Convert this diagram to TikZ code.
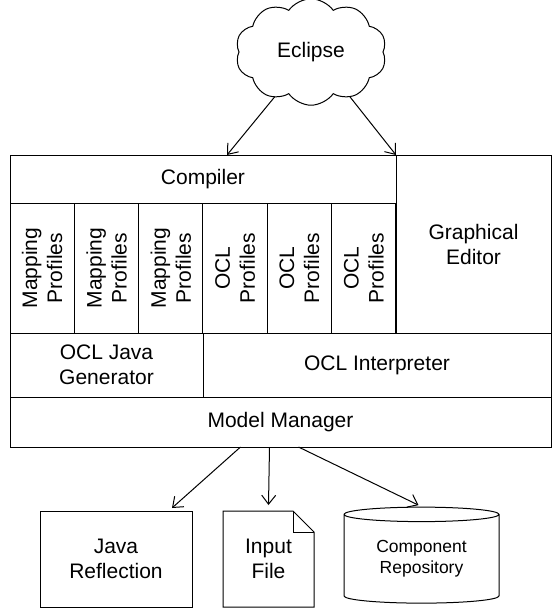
\documentclass[tikz,border=0pt]{standalone}
\usepackage{fontspec}
\setmainfont{Liberation Sans}
\usetikzlibrary{positioning, shapes.symbols, shapes.geometric, arrows.meta}
\tikzset{myCell/.style={draw, line width=1pt, inner sep=0pt, outer sep=0pt, align=center, font=\fontsize{21}{25}\selectfont}}
\tikzset{myProfile/.style={myCell, rotate=90, minimum width=130pt, minimum height=64.33pt}}
\tikzset{myArrow/.style={line width=1pt, -{Straight Barb[length=9pt,width=14pt]}}}
\newcommand{\colW}{64.33}
\newcommand{\foldS}{21pt}

\begin{document}
\begin{tikzpicture}[x=1pt,y=-1pt]
	\useasboundingbox (0,0) rectangle (552,608);
	\node[myCell, cloud, cloud puffs=10, cloud puff arc=110, minimum width=151pt, minimum height=95pt] (eclipse) at (311,52) {Eclipse};

	% tool stack
	\node[myCell, minimum width=386pt, minimum height=48pt] (compiler) at (203,179) {Compiler};
	\foreach \i/\txt in {0/Mapping,1/Mapping,2/Mapping,3/OCL,4/OCL,5/OCL}
		\node[myProfile] (prof\i) at ({10+\colW*(\i+0.5)},268) {\txt\\Profiles};
	\node[myCell, minimum width=155pt, minimum height=178pt] (editor) at (473.5,244) {Graphical\\Editor};
	\node[myCell, minimum width=193pt, minimum height=64pt] (oclgen) at (106.5,365) {OCL Java\\Generator};
	\node[myCell, minimum width=348pt, minimum height=64pt] (oclint) at (377,365) {OCL Interpreter};
	\node[myCell, minimum width=541pt, minimum height=50pt] (manager) at (280.5,422) {Model Manager};

	% back ends
	\node[myCell, minimum width=152pt, minimum height=96pt] (javaref) at (116,559) {Java\\Reflection};
	\node[myCell, draw=none, minimum width=91pt, minimum height=96pt] (inputfile) at (268.5,559) {Input\\File};
	\draw[line width=1pt] (inputfile.south west) -- (inputfile.north west) -- ([xshift=-\foldS]inputfile.north east) -- ([yshift=-\foldS]inputfile.north east) -- (inputfile.south east) -- cycle;
	\draw[line width=1pt] ([xshift=-\foldS]inputfile.north east) |- ([yshift=-\foldS]inputfile.north east);
	\node[myCell, cylinder, shape border rotate=90, aspect=0.16, minimum width=155pt, minimum height=96pt, font=\fontsize{17.5}{21}\selectfont] (repo) at (421.5,559) {Component\\Repository};

	\draw[myArrow] (eclipse.231) -- ([xshift=24pt]compiler.north);
	\draw[myArrow] (eclipse.311) -- (compiler.north east);
	\draw[myArrow] ([xshift=-40pt]manager.south) -- ([xshift=56pt,yshift=3pt]javaref.north);
	\draw[myArrow] ([xshift=-11pt]manager.south) -- ([yshift=6pt]inputfile.north);
	\draw[myArrow] ([xshift=18pt]manager.south) -- ([xshift=-3pt,yshift=2pt]repo.north);
\end{tikzpicture}
\end{document}
